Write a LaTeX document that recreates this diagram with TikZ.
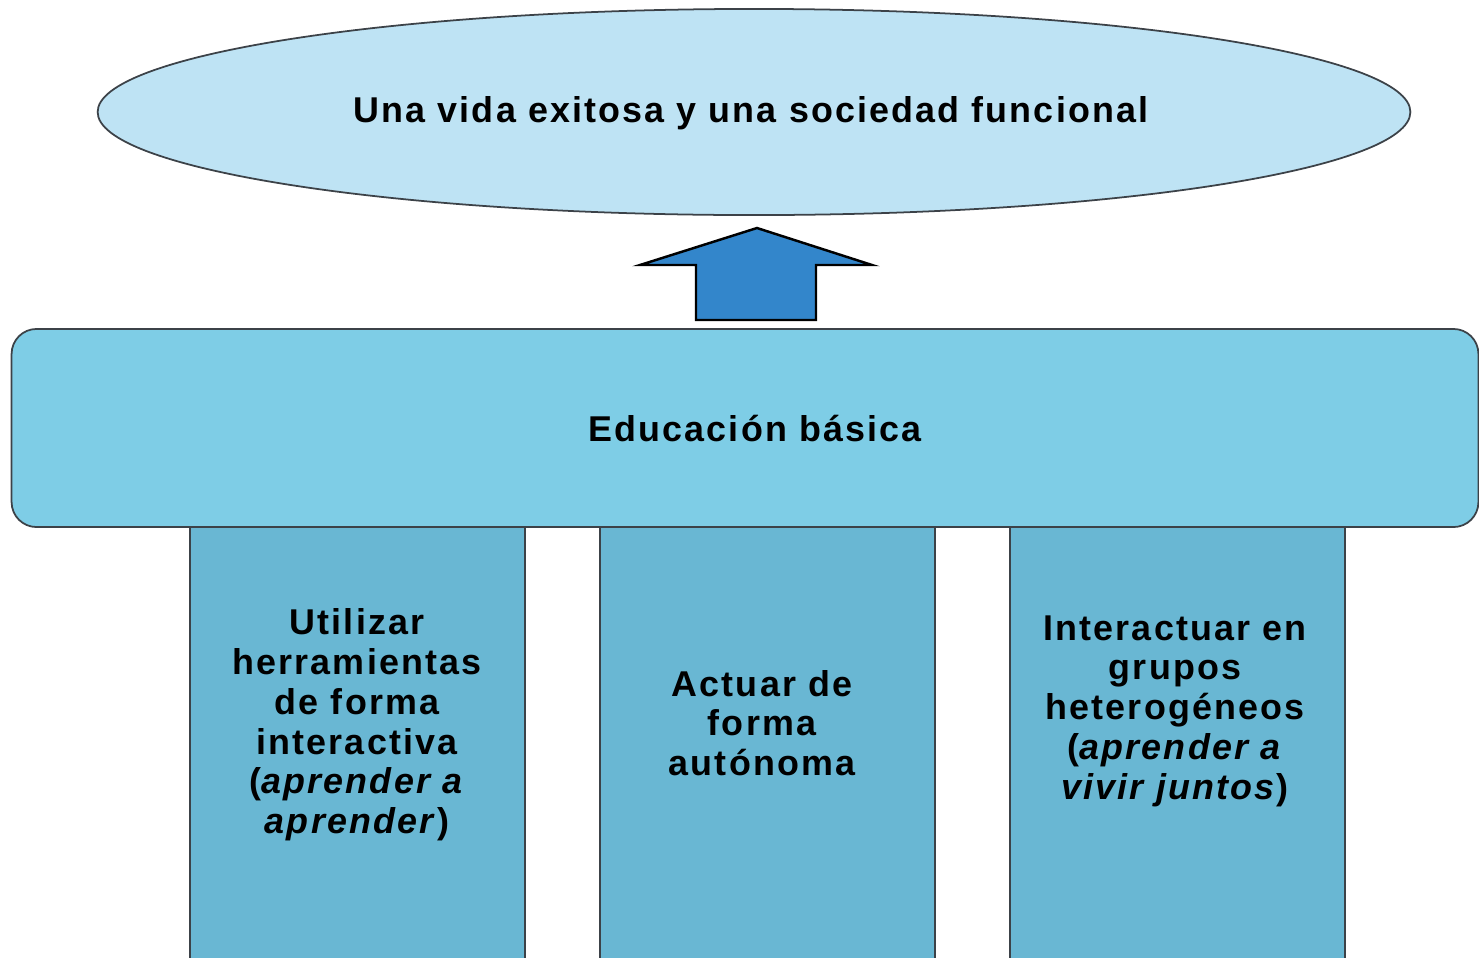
\documentclass[tikz,border=0pt]{standalone}
\usepackage{fontspec}
\setmainfont{Liberation Sans}[LetterSpace=6]
\usetikzlibrary{shapes.geometric}
\usetikzlibrary{positioning}

\definecolor{metafill}{RGB}{190,227,244}
\definecolor{basefill}{RGB}{126,205,230}
\definecolor{pilarfill}{RGB}{105,183,211}
\definecolor{flechafill}{RGB}{51,134,203}
\definecolor{borde}{RGB}{60,66,72}

\tikzset{
  txt/.style={font=\bfseries\fontsize{10.2}{11.3}\selectfont,text=black,align=center,inner sep=0pt},
  pilar/.style={fill=pilarfill,draw=borde,line width=0.5pt}
}

\begin{document}
\begin{tikzpicture}[x=0.01cm,y=-0.01cm]
\useasboundingbox (0,0) rectangle (1479,957);
\node[ellipse,fill=metafill,draw=borde,line width=0.5pt,minimum width=13.12cm,minimum height=2.06cm] (meta) at (754,112) {};
\node[txt] (metat) at (751,113) {Una vida exitosa y una sociedad funcional};
\draw[fill=flechafill,draw=black,line width=0.7pt] (757,228) -- (872,265) -- (816,265) -- (816,320) -- (696,320) -- (696,265) -- (640,265) -- cycle;
\draw[pilar] (190,527) rectangle (525,970);
\draw[pilar] (600,527) rectangle (935,970);
\draw[pilar] (1010,527) rectangle (1345,970);
\node[rectangle,rounded corners=0.25cm,fill=basefill,draw=borde,line width=0.5pt,minimum width=14.66cm,minimum height=1.98cm] (educ) at (745,428) {};
\node[txt] (educt) at (755,429) {Educación básica};
\node[txt] (usar) at (357,725) {Utilizar\\herramientas\\de forma\\interactiva\\(\textit{aprender a}\\\textit{aprender})};
\node[txt] (actuar) at (762,723) {Actuar de\\forma\\autónoma};
\node[txt] (grupos) at (1175,711) {Interactuar en\\grupos\\heterogéneos\\(\textit{aprender a}\\\textit{vivir juntos})};
\end{tikzpicture}
\end{document}
